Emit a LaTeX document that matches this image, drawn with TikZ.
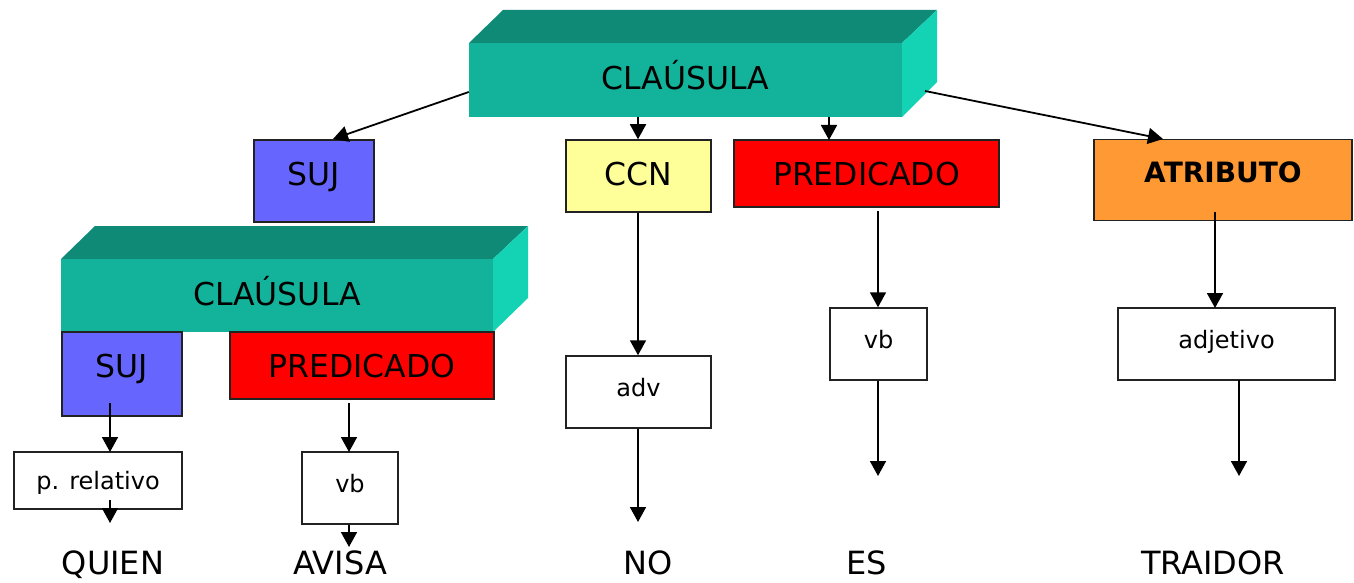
\documentclass[tikz,border=0pt]{standalone}
\usepackage{fontspec}
\setmainfont{DejaVu Sans}
\usetikzlibrary{arrows.meta}
\definecolor{tealfront}{HTML}{12B39A}
\definecolor{tealtop}{HTML}{0F8A76}
\definecolor{tealside}{HTML}{14D2B4}
\definecolor{sujblue}{HTML}{6666FF}
\definecolor{ccnyellow}{HTML}{FFFF99}
\definecolor{predred}{HTML}{FF0000}
\definecolor{atrorange}{HTML}{FF9933}
\definecolor{edge}{HTML}{222222}
\tikzset{
  x=1pt, y=-1pt,
  catbox/.style={draw=edge, line width=1.5pt, inner sep=0pt, text height=23pt, text depth=0pt, font=\fontsize{31.5}{33}\selectfont},
  wordbox/.style={draw=edge, line width=1.5pt, fill=white, inner sep=0pt, text height=18pt, text depth=10pt, font=\fontsize{24}{26}\selectfont},
  front/.style={fill=tealfront, inner sep=0pt, text height=23pt, font=\fontsize{31.5}{33}\selectfont},
  word/.style={inner sep=0pt, anchor=base, font=\fontsize{32}{34}\selectfont},
  arr/.style={line width=1.8pt, -{Triangle[width=16pt,length=15pt]}},
}
\begin{document}
\begin{tikzpicture}
\useasboundingbox (0,0) rectangle (1354,583);
% top clause cuboid
\fill[tealtop] (469,43) -- (503,10) -- (937,10) -- (902,43) -- cycle;
\fill[tealside] (902,43) -- (937,10) -- (937,82) -- (902,117) -- cycle;
\node[front, text depth=3pt, minimum width=433pt, minimum height=74pt] (cl1) at (685.5,80) {CLAÚSULA};
% lower clause cuboid
\fill[tealtop] (61,259) -- (95,226) -- (528,226) -- (493,259) -- cycle;
\fill[tealside] (493,259) -- (528,226) -- (528,298) -- (493,332) -- cycle;
\node[front, text depth=4pt, minimum width=432pt, minimum height=73pt] (cl2) at (277,295.5) {CLAÚSULA};
% first level
\node[catbox, text depth=14pt, fill=sujblue, minimum width=120pt, minimum height=82pt] (suj1) at (314,181) {SUJ};
\node[catbox, text depth=4pt, fill=ccnyellow, minimum width=145pt, minimum height=72pt] (ccn) at (638.5,176) {CCN};
\node[catbox, fill=predred, minimum width=265pt, minimum height=67pt] (pred1) at (866.5,173.5) {PREDICADO};
\node[catbox, fill=atrorange, minimum width=258pt, minimum height=81pt, text height=20.4pt, text depth=15pt, font=\fontsize{28}{30}\selectfont\bfseries] (atr) at (1223,180) {ATRIBUTO};
% lower clause children
\node[catbox, text depth=16pt, fill=sujblue, minimum width=120pt, minimum height=84pt] (suj2) at (122,374) {SUJ};
\node[catbox, fill=predred, minimum width=264pt, minimum height=67pt] (pred2) at (362,365.5) {PREDICADO};
% word-class boxes
\node[wordbox, text depth=0pt, minimum width=168pt, minimum height=57pt] (rel) at (98,480.5) {p. relativo};
\node[wordbox, minimum width=96pt, minimum height=72pt] (vb1) at (350,488) {vb};
\node[wordbox, minimum width=145pt, minimum height=72pt] (adv) at (638.5,392) {adv};
\node[wordbox, minimum width=97pt, minimum height=72pt] (vb2) at (878.5,344) {vb};
\node[wordbox, minimum width=217pt, minimum height=72pt] (adj) at (1226.5,344) {adjetivo};
% words
\node[word] (quien) at (113,574) {QUIEN};
\node[word] (avisa) at (340,574) {AVISA};
\node[word] (no) at (648,574) {NO};
\node[word] (es) at (867,574) {ES};
\node[word] (traidor) at (1213,574) {TRAIDOR};
% end coordinates
\coordinate (e1) at (110,523);
\coordinate (e2) at (349,547);
\coordinate (e3) at (638,522);
\coordinate (e4) at (878,476);
\coordinate (e5) at (1239,476);
% connectors from top clause
\draw[arr] (cl1.west |- 0,92) -- (333,139);
\draw[arr] (638,117) -- (ccn.north -| 638,0);
\draw[arr] (829,117) -- (829,140);
\draw[arr] (925,91) -- (1163,139);
% connectors
\draw[arr] (110,403) -- (110,452);
\draw[arr] (110,500) -- (e1);
\draw[arr] (349,403) -- (349,452);
\draw[arr] (vb1.south -| e2) -- (e2);
\draw[arr] (ccn.south -| e3) -- (adv.north -| e3);
\draw[arr] (adv.south -| e3) -- (e3);
\draw[arr] (878,211) -- (vb2.north -| e4);
\draw[arr] (vb2.south -| e4) -- (e4);
\draw[arr] (1215,212) -- (1215,308);
\draw[arr] (1239,380) -- (e5);
\end{tikzpicture}
\end{document}
